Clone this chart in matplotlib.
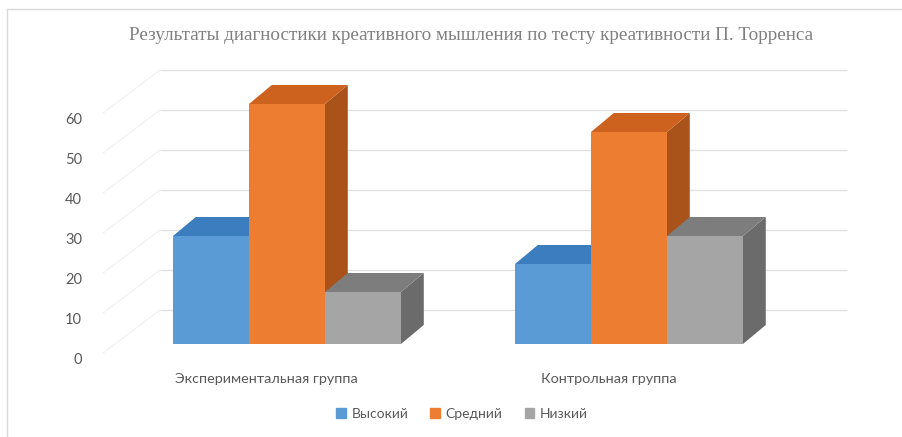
import matplotlib.pyplot as plt
from matplotlib.patches import Polygon, Patch
from matplotlib.lines import Line2D

groups = ['Экспериментальная группа', 'Контрольная группа']
levels = ['Высокий', 'Средний', 'Низкий']
vysokiy = [27, 20]
sredniy = [60, 53]
nizkiy = [13, 27]
ticks = [0, 10, 20, 30, 40, 50, 60]

# front / top / side shades per series
front = ['#5b9bd5', '#ed7d31', '#a5a5a5']
top = ['#3c7dc0', '#cd621f', '#7d7d7d']
side = ['#2f6aa6', '#a9531b', '#6b6b6b']

sans = ['Lato', 'Open Sans', 'DejaVu Sans']
txt = '#595959'

W, H = 903, 437
fig = plt.figure(figsize=(W / 100, H / 100), dpi=100)
ax = fig.add_axes([90 / W, 1 - 370 / H, 790 / W, 315 / H])
ax.set_xlim(-2.592, 7.803)
ax.set_ylim(-6.5, 72.25)
for s in ax.spines.values():
    s.set_visible(False)

# oblique depth of the bars (data units)
dx, dy = 0.30, 4.75

# back wall gridlines and very faint left wall lines
for t in range(10, 80, 10):
    ax.hlines(t - 1.5, -1.67, 7.37, color='#e2e2e2', lw=1, zorder=1)
    ax.plot([-1.67, -2.42], [t - 1.5, t - 12.25], color='#f4f1ef', lw=0.9, zorder=1)

series = [vysokiy, sredniy, nizkiy]
z = 3
for g in range(len(groups)):
    c = g * 4.5
    for k, vals in enumerate(series):
        x0 = c - 1.5 + k
        v = vals[g]
        ax.bar(x0, v, width=1, align='edge', color=front[k], lw=0, zorder=z + 2)
        ax.add_patch(Polygon([[x0, v], [x0 + 1, v], [x0 + 1 + dx, v + dy], [x0 + dx, v + dy]],
                             closed=True, color=top[k], lw=0, zorder=z + 1))
        ax.add_patch(Polygon([[x0 + 1, 0], [x0 + 1 + dx, dy], [x0 + 1 + dx, v + dy], [x0 + 1, v]],
                             closed=True, color=side[k], lw=0, zorder=z))
        z += 3

ax.set_yticks([t - 3.5 for t in ticks])
ax.set_yticklabels([str(t) for t in ticks])
ax.set_xticks([g * 4.5 - 0.27 for g in range(len(groups))])
ax.set_xticklabels(groups)
ax.tick_params(axis='y', length=0, pad=5.8, labelsize=10.5, labelcolor=txt)
ax.tick_params(axis='x', length=0, pad=2, labelsize=10.4, labelcolor=txt)
for lab in ax.get_xticklabels() + ax.get_yticklabels():
    lab.set_family(sans)

fig.text(471 / W, 1 - 35 / H,
         'Результаты диагностики креативного мышления по тесту креативности П. Торренса',
         ha='center', va='center', family='Liberation Serif', fontsize=13.8, color='#7f7f7f')

handles = [Patch(color=front[k]) for k in range(3)]
leg = fig.legend(handles, levels, loc='center', bbox_to_anchor=(462 / W, 1 - 414 / H), ncol=3,
                 frameon=False, handlelength=0.7, handleheight=0.7, handletextpad=0.4,
                 columnspacing=1.6, prop={'family': sans, 'size': 10})
for t in leg.get_texts():
    t.set_color(txt)

# chart area border (top and left only visible)
fig.add_artist(Line2D([7 / W, 1], [1 - 9 / H, 1 - 9 / H], color='#d9d9d9', lw=1))
fig.add_artist(Line2D([7 / W, 7 / W], [0, 1 - 9 / H], color='#d9d9d9', lw=1))

fig.savefig('out.png', dpi=100)
